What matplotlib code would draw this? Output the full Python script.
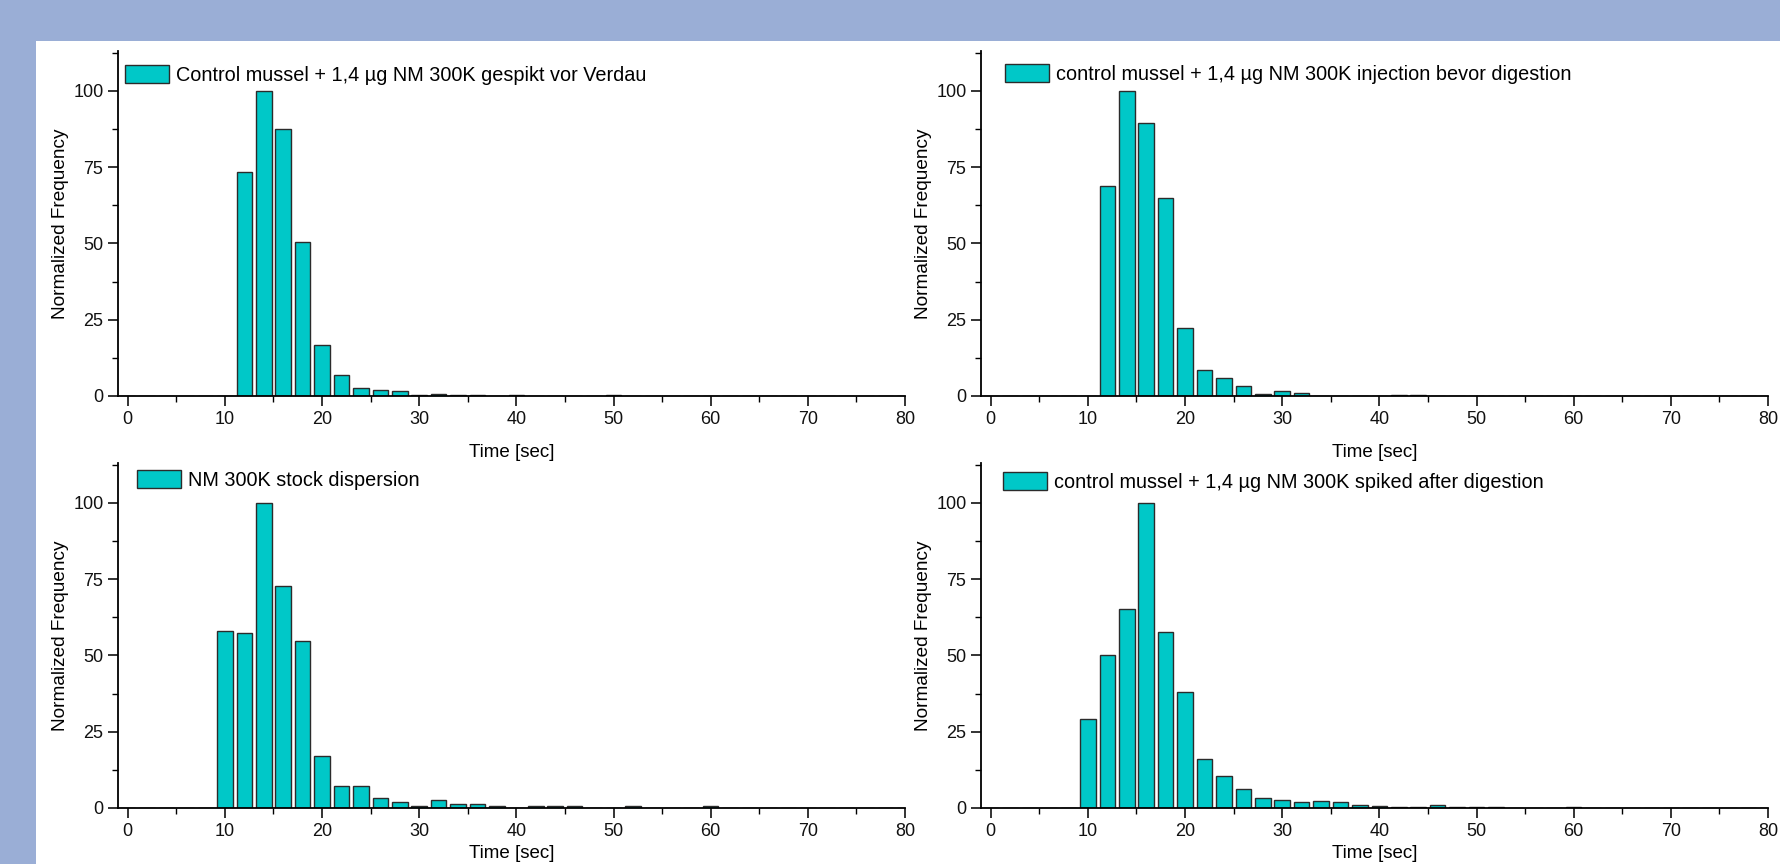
import matplotlib
matplotlib.use("Agg")
import matplotlib.pyplot as plt
from matplotlib.patches import Rectangle
from matplotlib.ticker import MultipleLocator
import numpy as np

plt.rcParams['font.family'] = ['Liberation Sans', 'DejaVu Sans']

# bin centres in sec (2 s bins)
bins = np.arange(0, 82, 2)

def hist(d):
    h = np.zeros(len(bins))
    for k, v in d.items():
        h[list(bins).index(k)] = v
    return h

# top left: gespikt vor Verdau
vals_tl = {12: 73.3, 14: 100, 16: 87.5, 18: 50.4, 20: 16.7, 22: 6.8, 24: 2.7,
           26: 1.9, 28: 1.6, 30: 0.4, 32: 0.5, 34: 0.2, 36: 0.4, 40: 0.4, 50: 0.4}
# top right: injection bevor digestion
vals_tr = {12: 68.8, 14: 100, 16: 89.5, 18: 64.7, 20: 22.2, 22: 8.4, 24: 5.8,
           26: 3.2, 28: 0.6, 30: 1.5, 32: 1.1, 42: 0.4, 44: 0.4}
# bottom left: stock dispersion
vals_bl = {10: 57.9, 12: 57.3, 14: 100, 16: 72.7, 18: 54.6, 20: 17.0, 22: 7.2,
           24: 7.2, 26: 3.3, 28: 2.0, 30: 0.6, 32: 2.6, 34: 1.3, 36: 1.3, 38: 0.6,
           42: 0.5, 44: 0.5, 46: 0.5, 52: 0.5, 60: 0.5}
# bottom right: spiked after digestion
vals_br = {10: 29.1, 12: 50.2, 14: 65.1, 16: 100, 18: 57.7, 20: 37.9, 22: 16.2,
           24: 10.4, 26: 6.1, 28: 3.2, 30: 2.7, 32: 2.1, 34: 2.4, 36: 2.0, 38: 1.0,
           40: 0.6, 42: 0.4, 44: 0.4, 46: 1.1, 48: 0.3, 50: 0.4, 52: 0.3, 60: 0.2}

labels = ["Control mussel + 1,4 µg NM 300K gespikt vor Verdau",
          "control mussel + 1,4 µg NM 300K injection bevor digestion",
          "NM 300K stock dispersion",
          "control mussel + 1,4 µg NM 300K spiked after digestion"]

W, H = 1781, 864
fig = plt.figure(figsize=(W / 100, H / 100), dpi=100)
fig.patch.set_facecolor('#9aaed6')
fig.patches.append(Rectangle((36 / W, 0), 1, 1 - 41 / H, transform=fig.transFigure,
                             facecolor='white', edgecolor='none', zorder=-5))

# axes boxes in pixels: left, bottom(y0 line), top
boxes = [(118, 396, 51), (981, 396, 51), (118, 808, 463), (981, 808, 463)]
# legend offsets (px) from axes top-left corner
leg_off = [(7, 14), (24, 13), (19, 7), (22, 9)]
xpads = [12, 12, 4, 4]
data = [vals_tl, vals_tr, vals_bl, vals_br]
axw = 787

for (l, b, t), (ox, oy), xp, d, lab in zip(boxes, leg_off, xpads, data, labels):
    axh = b - t
    ax = fig.add_axes([l / W, 1 - b / H, axw / W, axh / H], zorder=2)
    ax.set_facecolor('none')
    h = hist(d)
    ax.bar(bins, h, width=1.6, color='#00c8c8', edgecolor='#2b2b2b', linewidth=1,
           label=lab, zorder=2)
    ax.set_xlim(-1, 80)
    ax.set_ylim(0, 113)
    for s in ['top', 'right']:
        ax.spines[s].set_visible(False)
    for s in ['left', 'bottom']:
        ax.spines[s].set_linewidth(1.3)
        ax.spines[s].set_zorder(3)
    ax.xaxis.set_major_locator(MultipleLocator(10))
    ax.xaxis.set_minor_locator(MultipleLocator(5))
    ax.set_yticks([0, 25, 50, 75, 100])
    ax.yaxis.set_minor_locator(MultipleLocator(12.5))
    ax.tick_params(which='major', direction='out', length=7, width=1.2,
                   labelsize=13, colors='#111111')
    ax.tick_params(which='minor', direction='out', length=4, width=1.0)
    ax.set_xlabel("Time [sec]", fontsize=13.5, labelpad=xp)
    ax.set_ylabel("Normalized Frequency", fontsize=13.7, labelpad=3)
    ax.legend(loc='upper left', bbox_to_anchor=(ox / axw, 1 - oy / axh),
              frameon=False, fontsize=14.3, handlelength=2.2, handleheight=1.05,
              borderaxespad=0, borderpad=0, handletextpad=0.38)

fig.savefig("out.png", dpi=100, facecolor=fig.get_facecolor())
